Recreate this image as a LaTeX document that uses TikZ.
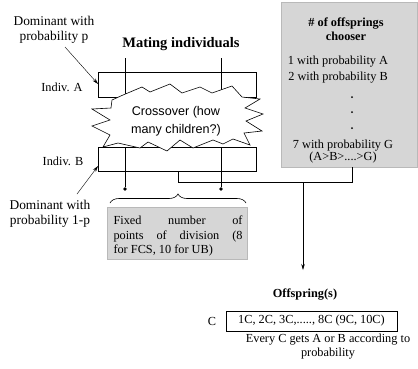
\documentclass[tikz,border=0pt]{standalone}
\usepackage{fontspec}
\setmainfont{Liberation Serif}
\newfontfamily\crossfont{Liberation Sans}
\usetikzlibrary{arrows.meta,decorations.pathreplacing}
\begin{document}
\begin{tikzpicture}[x=1pt,y=-1pt,
  font=\fontsize{12.3}{14}\selectfont,
  lbl/.style={inner sep=0pt, align=center},
  biglbl/.style={inner sep=0pt, align=center, font=\fontsize{13.4}{15}\selectfont},
  indrect/.style={draw, line width=0.7pt, minimum width=158pt, minimum height=25pt, inner sep=0pt},
  dotnode/.style={circle, fill=black, inner sep=0pt, minimum size=3.6pt},
  conn/.style={line width=0.6pt},
  arr/.style={line width=0.6pt, -{Stealth[length=6pt,width=3.5pt]}},
  shade/.style={fill=gray!32, draw=gray!55, line width=0.4pt},
]
\useasboundingbox (0,0) rectangle (418,368);

% left labels
\node[biglbl] (domA) at (54,30) {Dominant with\\probability p};
\node[lbl] (indA) at (62,87) {Indiv. A};
\node[lbl] (indB) at (63,161) {Indiv. B};
\node[biglbl] (domB) at (50,214) {Dominant with\\probability 1-p};
\node[lbl, font=\fontsize{14.5}{16}\selectfont\bfseries] (mating) at (181,44) {Mating individuals};

% individuals rectangles
\node[indrect] (rA) at (177,84.5) {};
\node[indrect, minimum height=24pt] (rB) at (177,159) {};

\coordinate (tA1) at (125,58);
\coordinate (tA2) at (221,58);
\coordinate (bA1) at (125,97);
\coordinate (bA2) at (221,97);
\coordinate (tB1) at (125,147);
\coordinate (tB2) at (221,147);
\draw[conn] (tA1) -- (bA1);
\draw[conn] (tA2) -- (bA2);

\node[dotnode] (d1) at (125,189) {};
\node[dotnode] (d2) at (221,189) {};
\draw[conn] (tB1) -- (d1);
\draw[conn] (tB2) -- (d2);

% arrows to rectangles
\coordinate (pA) at (98,84);
\coordinate (pB) at (98,166);
\draw[arr, line width=0.4pt] (65,47) -- (pA);
\draw[arr, line width=0.4pt] (77,194) -- (pB);

% starburst
\draw[fill=white, line width=0.6pt]
  (112,100) -- (123,95) -- (142,87) -- (150,92) -- (170,84) -- (182,93) --
  (200,87) -- (212,93) -- (232,86) -- (242,97) -- (260,99) -- (245,108) --
  (263,114) -- (246,121) -- (262,131) -- (244,133) -- (250,145) -- (233,139) --
  (223,144) -- (213,140) -- (193,148) -- (180,140) -- (167,151) -- (148,142) --
  (140,148) -- (118,143) -- (103,147) -- (110,135) -- (92,126) -- (110,120) --
  (92,109) -- (111,108) -- cycle;
\node[lbl, font=\crossfont\fontsize{12.6}{18}\selectfont] (cross) at (176,121) {Crossover (how\\many children?)};

% chooser box
\node[shade, minimum width=136pt, minimum height=165pt, inner sep=0pt] (ch) at (349,84.5) {};
\node[lbl, font=\fontsize{12.3}{14}\selectfont\bfseries] (chT) at (346,29) {\# of offsprings\\chooser};
\node[lbl] (c1) at (338,62) {1 with probability A};
\node[lbl] (c2) at (338,78) {2 with probability B};
\node[dotnode, minimum size=2pt] (e1) at (352,97) {};
\node[dotnode, minimum size=2pt] (e2) at (352,112) {};
\node[dotnode, minimum size=2pt] (e3) at (352,128) {};
\node[lbl] (c7) at (343,146) {7 with probability G};
\node[lbl] (cAG) at (343,158) {(A>B>....>G)};

% division box
\node[shade, minimum width=140pt, minimum height=52pt, inner sep=0pt] (div) at (177,233) {};
\node[inner sep=0pt, font=\fontsize{12.3}{14.5}\selectfont] (divT) at (178,236)
  {\parbox{129pt}{Fixed number of\linebreak points of division (8\linebreak for FCS, 10 for UB)}};
\draw[line width=0.6pt, decorate, decoration={brace, amplitude=9pt}] (110,203) -- (246,203);

% connections to offspring
\coordinate (bB) at (178,171);
\coordinate (j1) at (178,182);
\coordinate (j2) at (303,182);
\coordinate (j3) at (352,182);
\coordinate (arrEnd) at (303,270);
\draw[conn] (bB) -- (j1) -- (j3) -- (ch.south -| j3);
\draw[arr] (j2) -- (arrEnd);

% offspring
\node[lbl, font=\fontsize{12.3}{14}\selectfont\bfseries] (off) at (305,295) {Offspring(s)};
\node[draw, line width=0.6pt, minimum width=171pt, minimum height=20pt, inner sep=0pt] (cbox) at (311.5,321) {1C, 2C, 3C,....., 8C (9C, 10C)};
\node[lbl] (cl) at (212,321) {C};
\node[lbl] (note) at (328,347) {Every C gets A or B according to\\probability};
\end{tikzpicture}
\end{document}
